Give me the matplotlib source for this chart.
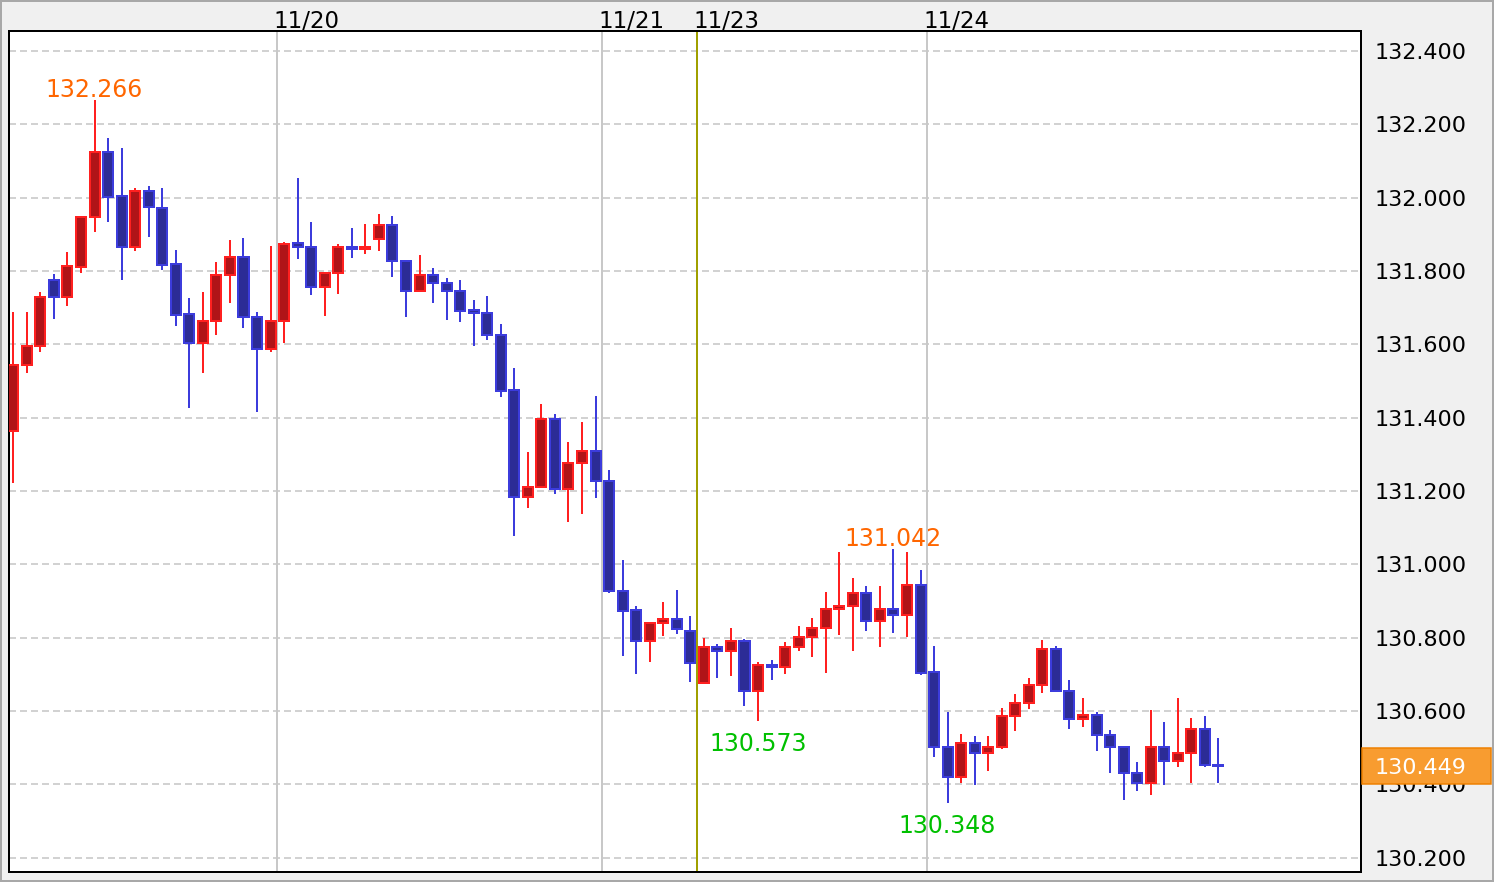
import matplotlib
matplotlib.use("Agg")
import matplotlib.pyplot as plt
from matplotlib.patches import Rectangle
import matplotlib.transforms as mtransforms

plt.rcParams['lines.scale_dashes'] = False
plt.rcParams['font.family'] = ['DejaVu Sans']

# ---------------- data (hourly candles) ----------------
opens = [131.364, 131.544, 131.594, 131.774, 131.728, 131.810, 131.948, 132.124, 132.003, 131.865,
         132.019, 131.971, 131.818, 131.682, 131.603, 131.663, 131.788, 131.839, 131.675, 131.586,
         131.663, 131.877, 131.866, 131.756, 131.794, 131.866, 131.859, 131.886, 131.926, 131.828,
         131.745, 131.790, 131.768, 131.746, 131.692, 131.686, 131.626, 131.474, 131.183, 131.210,
         131.397, 131.205, 131.276, 131.310, 131.228, 130.928, 130.874, 130.790, 130.839, 130.852,
         130.819, 130.676, 130.775, 130.763, 130.792, 130.654, 130.726, 130.719, 130.774, 130.803,
         130.825, 130.879, 130.885, 130.923, 130.845, 130.879, 130.861, 130.944, 130.705, 130.503,
         130.419, 130.514, 130.485, 130.503, 130.585, 130.623, 130.672, 130.770, 130.655, 130.577,
         130.590, 130.535, 130.503, 130.432, 130.403, 130.503, 130.463, 130.485, 130.552, 130.452]
highs = [131.687, 131.687, 131.742, 131.791, 131.851, 131.950, 132.266, 132.162, 132.135, 132.025,
         132.032, 132.025, 131.857, 131.726, 131.743, 131.825, 131.885, 131.890, 131.687, 131.868,
         131.879, 132.054, 131.934, 131.797, 131.874, 131.917, 131.928, 131.955, 131.950, 131.830,
         131.844, 131.808, 131.781, 131.775, 131.721, 131.732, 131.655, 131.535, 131.306, 131.437,
         131.410, 131.334, 131.388, 131.459, 131.257, 131.012, 130.886, 130.843, 130.897, 130.930,
         130.859, 130.799, 130.783, 130.826, 130.797, 130.734, 130.739, 130.788, 130.832, 130.854,
         130.925, 131.034, 130.963, 130.941, 130.941, 131.042, 131.034, 130.985, 130.777, 130.597,
         130.537, 130.532, 130.532, 130.608, 130.646, 130.690, 130.794, 130.777, 130.685, 130.636,
         130.597, 130.548, 130.505, 130.461, 130.603, 130.570, 130.636, 130.581, 130.586, 130.526]
lows = [131.221, 131.521, 131.580, 131.668, 131.705, 131.794, 131.907, 131.934, 131.775, 131.853,
        131.891, 131.803, 131.651, 131.427, 131.521, 131.624, 131.712, 131.645, 131.416, 131.580,
        131.603, 131.831, 131.733, 131.678, 131.738, 131.836, 131.847, 131.853, 131.782, 131.673,
        131.743, 131.712, 131.666, 131.661, 131.595, 131.612, 131.456, 131.077, 131.154, 131.208,
        131.192, 131.115, 131.137, 131.181, 130.921, 130.750, 130.701, 130.734, 130.805, 130.810,
        130.679, 130.674, 130.690, 130.696, 130.614, 130.573, 130.685, 130.701, 130.763, 130.747,
        130.703, 130.807, 130.763, 130.817, 130.774, 130.812, 130.801, 130.697, 130.474, 130.348,
        130.403, 130.398, 130.436, 130.496, 130.545, 130.605, 130.648, 130.652, 130.550, 130.556,
        130.490, 130.430, 130.357, 130.381, 130.370, 130.398, 130.447, 130.403, 130.447, 130.403]
closes = [131.544, 131.594, 131.730, 131.728, 131.812, 131.948, 132.124, 132.001, 131.865, 132.019,
          131.974, 131.816, 131.680, 131.603, 131.664, 131.790, 131.839, 131.674, 131.586, 131.664,
          131.872, 131.865, 131.756, 131.795, 131.866, 131.859, 131.866, 131.926, 131.826, 131.745,
          131.790, 131.766, 131.745, 131.690, 131.685, 131.625, 131.472, 131.183, 131.212, 131.397,
          131.205, 131.277, 131.310, 131.226, 130.926, 130.872, 130.790, 130.841, 130.852, 130.823,
          130.730, 130.775, 130.763, 130.792, 130.654, 130.726, 130.719, 130.775, 130.803, 130.825,
          130.879, 130.885, 130.923, 130.845, 130.879, 130.861, 130.944, 130.703, 130.501, 130.419,
          130.514, 130.485, 130.503, 130.585, 130.623, 130.672, 130.770, 130.654, 130.577, 130.590,
          130.534, 130.501, 130.430, 130.403, 130.503, 130.463, 130.486, 130.552, 130.452, 130.449]

y_ticks = [130.2, 130.4, 130.6, 130.8, 131.0, 131.2, 131.4, 131.6, 131.8, 132.0, 132.2, 132.4]

day_labels = ['11/20', '11/21', '11/23', '11/24']
day_index = [19.5, 43.5, 50.5, 67.5]       # boundary between candles
week_start_label = '11/23'

high_marks = [6, 65]    # candles whose high is labelled
low_marks = [55, 69]    # candles whose low is labelled

# ---------------- figure ----------------
W, H = 1494, 882
fig = plt.figure(figsize=(W / 100, H / 100), dpi=100, facecolor='#f0f0f0')
ax = fig.add_axes([9 / W, 10 / H, 1352 / W, 841 / H])
ax.set_facecolor('white')
ax.set_xlim(-0.318, 99.53)
ax.set_ylim(130.161, 132.454)

PT = 0.72  # points per pixel

# grid
for v in y_ticks:
    ax.axhline(v, color='#c8c8c8', lw=1.6 * PT, linestyle=(0, (7 * PT, 4 * PT)), zorder=0)

# day separators
for lab, p in zip(day_labels, day_index):
    col = '#a0a000' if lab == week_start_label else '#c8c8c8'
    ax.axvline(p, color=col, lw=2 * PT, zorder=1)
    ax.annotate(lab, xy=(p, 1.0), xycoords=('data', 'axes fraction'),
                xytext=(-4, 3), textcoords='offset pixels', ha='left', va='baseline',
                fontsize=16.5, color='#000000', annotation_clip=False)

# candles
w = 0.74
for i, (o, h, l, c) in enumerate(zip(opens, highs, lows, closes)):
    up = c >= o
    edge = '#ff2020' if up else '#3c3cdc'
    face = '#b01418' if up else '#2c2c96'
    ax.vlines(i, l, h, color=edge, lw=2 * PT, zorder=2)
    ax.add_patch(Rectangle((i - w / 2, min(o, c)), w, abs(c - o),
                           facecolor=face, edgecolor=edge, lw=2 * PT, zorder=3))

# high / low labels
for i in high_marks:
    ax.annotate(f'{highs[i]:.3f}', xy=(i, highs[i]), xytext=(0, 3), textcoords='offset pixels',
                ha='center', va='baseline', fontsize=17, color='#ff6600', zorder=5)
for i in low_marks:
    ax.annotate(f'{lows[i]:.3f}', xy=(i, lows[i]), xytext=(0, -11), textcoords='offset pixels',
                ha='center', va='top', fontsize=17, color='#00c000', zorder=5)

# axes styling
for s in ax.spines.values():
    s.set_color('black')
    s.set_linewidth(2 * PT)
ax.set_xticks([])
ax.yaxis.tick_right()
ax.set_yticks(y_ticks)
ax.set_yticklabels([f'{v:.3f}' for v in y_ticks])
ax.tick_params(axis='y', length=0, pad=10, labelsize=16, labelcolor='black')

# last price box
last = closes[-1]
blend = mtransforms.blended_transform_factory(ax.transAxes, ax.transData)
box_h = 36 * (132.454 - 130.161) / 841
ax.add_patch(Rectangle((1.0007, last - box_h / 2), 0.0955, box_h, transform=blend,
                       facecolor='#f89c30', edgecolor='#ee8000', lw=1.5 * PT,
                       clip_on=False, zorder=6))
ax.text(1.0104, last, f'{last:.3f}', transform=blend, ha='left', va='center_baseline',
        fontsize=16, color='white', zorder=7, clip_on=False)

# outer frame
fig.add_artist(Rectangle((0, 0), 1, 1, transform=fig.transFigure, fill=False,
                         edgecolor='#a8a8a8', lw=4 * PT))

fig.savefig('out.png', dpi=100, facecolor=fig.get_facecolor())
